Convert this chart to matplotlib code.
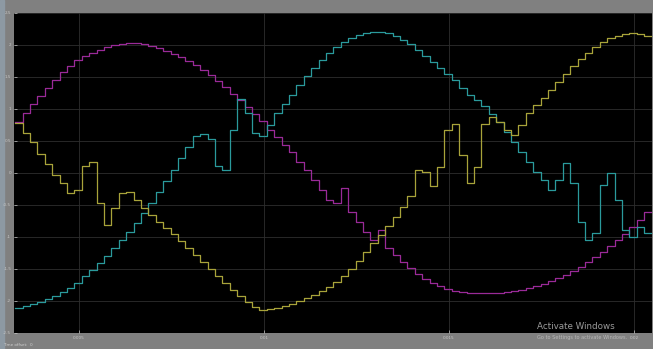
import numpy as np
import matplotlib
matplotlib.use("Agg")
import matplotlib.pyplot as plt

# Scope trace: three phase signals, sampled and held (Ts = 0.2 ms)
Ts = 0.0002
t_start = 0.0032757

phase_a = [0.80, 0.94, 1.08, 1.20, 1.33, 1.45, 1.58, 1.67, 1.77, 1.83,
           1.88, 1.92, 1.97, 2.00, 2.02, 2.03, 2.03, 2.02, 1.98, 1.95,
           1.91, 1.86, 1.81, 1.75, 1.69, 1.61, 1.53, 1.44, 1.34, 1.23,
           1.14, 1.03, 0.92, 0.81, 0.67, 0.56, 0.44, 0.33, 0.17, 0.05,
           -0.11, -0.27, -0.42, -0.47, -0.23, -0.61, -0.77, -0.92, -1.05, -0.89,
           -1.17, -1.28, -1.39, -1.48, -1.58, -1.66, -1.72, -1.77, -1.81, -1.84,
           -1.86, -1.88, -1.88, -1.88, -1.88, -1.88, -1.86, -1.84, -1.83, -1.80,
           -1.77, -1.73, -1.69, -1.64, -1.59, -1.53, -1.47, -1.39, -1.31, -1.23,
           -1.14, -1.05, -0.95, -0.84, -0.73, -0.61]

phase_b = [-2.11, -2.08, -2.05, -2.02, -1.97, -1.92, -1.86, -1.80, -1.72, -1.61,
           -1.52, -1.41, -1.30, -1.17, -1.05, -0.92, -0.78, -0.63, -0.47, -0.30,
           -0.13, 0.05, 0.23, 0.41, 0.58, 0.61, 0.53, 0.11, 0.05, 0.67,
           1.16, 0.94, 0.63, 0.58, 0.75, 0.94, 1.08, 1.22, 1.38, 1.52,
           1.64, 1.77, 1.88, 1.97, 2.05, 2.11, 2.16, 2.19, 2.20, 2.20,
           2.19, 2.14, 2.08, 2.02, 1.92, 1.83, 1.73, 1.64, 1.55, 1.45,
           1.33, 1.22, 1.14, 1.05, 0.92, 0.80, 0.64, 0.48, 0.33, 0.17,
           0.02, -0.11, -0.27, -0.11, 0.16, -0.16, -0.77, -1.05, -0.94, -0.19,
           0.00, -0.42, -0.89, -1.00, -0.84, -0.94]

phase_c = [0.78, 0.63, 0.48, 0.30, 0.14, -0.03, -0.16, -0.31, -0.27, 0.11,
           0.17, -0.47, -0.81, -0.55, -0.31, -0.30, -0.42, -0.55, -0.66, -0.77,
           -0.86, -0.95, -1.06, -1.17, -1.28, -1.39, -1.50, -1.61, -1.72, -1.83,
           -1.92, -2.02, -2.09, -2.14, -2.13, -2.11, -2.08, -2.05, -2.00, -1.95,
           -1.91, -1.84, -1.78, -1.70, -1.61, -1.50, -1.38, -1.23, -1.09, -0.97,
           -0.83, -0.69, -0.53, -0.36, 0.05, 0.02, -0.20, 0.09, 0.67, 0.77,
           0.28, -0.16, 0.09, 0.77, 0.88, 0.80, 0.67, 0.59, 0.75, 0.94,
           1.06, 1.17, 1.30, 1.42, 1.55, 1.67, 1.78, 1.88, 1.97, 2.05,
           2.11, 2.14, 2.17, 2.19, 2.17, 2.14]

x_ticks = [0.005, 0.010, 0.015, 0.020]
x_tick_labels = ["0.005", "0.01", "0.015", "0.02"]
y_ticks = [2.5, 2.0, 1.5, 1.0, 0.5, 0.0, -0.5, -1.0, -1.5, -2.0, -2.5]
y_tick_labels = ["2.5", "2", "1.5", "1", "0.5", "0", "-0.5", "-1", "-1.5", "-2", "-2.5"]

colors = {"a": "#9a2a98", "b": "#2a9a9c", "c": "#a8a33a"}

W, H = 653, 349
fig = plt.figure(figsize=(W / 100, H / 100), dpi=100)
fig.patch.set_facecolor("#808080")

# bluish window edge on the left
fig.add_artist(plt.Rectangle((0, 0), 4 / W, 1, transform=fig.transFigure,
                             color="#8d99a3", zorder=0))

ax = fig.add_axes([14 / W, 1 - 333 / H, (652 - 14) / W, (333 - 13) / H])
ax.set_facecolor("black")

for key, series in (("a", phase_a), ("b", phase_b), ("c", phase_c)):
    vals = np.asarray(series)
    t = t_start + Ts * np.arange(len(vals) + 1)
    ax.step(t, np.append(vals, vals[-1]), where="post",
            color=colors[key], lw=0.9, zorder=3)

ax.set_xlim(0.005 - 65 / 37000, 0.005 + (652 - 79) / 37000)
ax.set_ylim(-2.5, 2.5)
ax.set_xticks(x_ticks)
ax.set_xticklabels(x_tick_labels)
ax.set_yticks(y_ticks)
ax.set_yticklabels(y_tick_labels)
ax.grid(True, color="#2e2e2e", lw=0.6)
ax.tick_params(colors="#c8c8c8", labelsize=3, length=2, width=0.5,
               direction="in", pad=2)
for s in ax.spines.values():
    s.set_visible(False)

fig.text(3 / W, 1 - 346 / H, "Time offset:  0", fontsize=3, color="#d0d0d0",
         va="baseline")
fig.text(537 / W, 1 - 329 / H, "Activate Windows", fontsize=6.3,
         color="#9a9a9a", va="baseline")
fig.text(537 / W, 1 - 339 / H, "Go to Settings to activate Windows.",
         fontsize=3.6, color="#b8b8b8", va="baseline")

fig.savefig("out.png", dpi=100, facecolor=fig.get_facecolor())
